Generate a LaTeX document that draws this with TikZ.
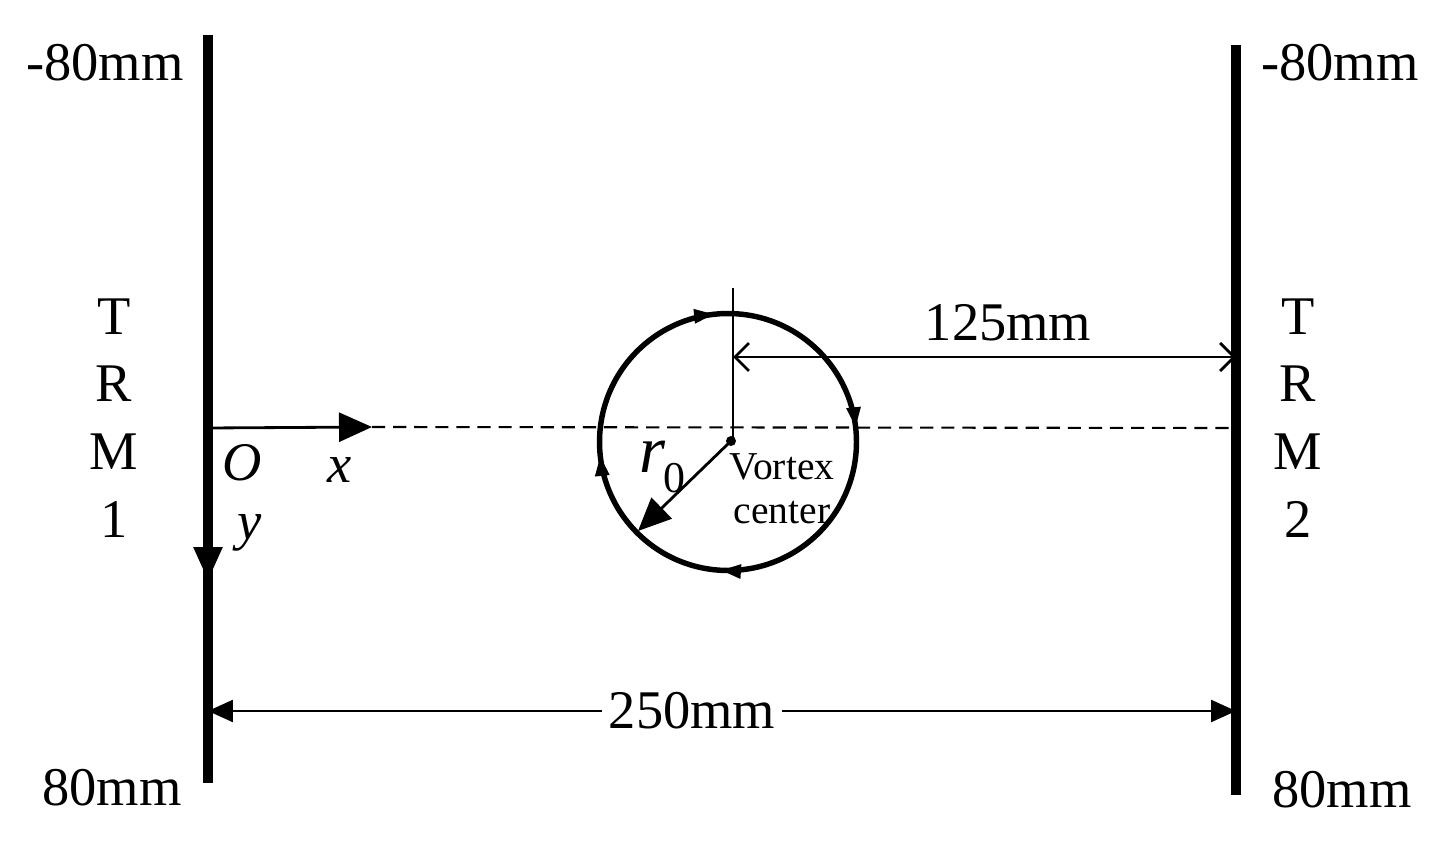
\documentclass[tikz,border=0pt]{standalone}
\usepackage{fontspec}
\setmainfont{Liberation Serif}
\usetikzlibrary{arrows.meta,positioning,decorations.markings}
\tikzstyle{bigtext} = [inner sep=0pt, font=\fontsize{31}{38.6}\selectfont]
\tikzstyle{smalltext} = [inner sep=0pt, font=\fontsize{22.5}{25}\selectfont]
\tikzstyle{mirror} = [line width=5.6pt]
\tikzstyle{axis} = [line width=1.6pt, -{Triangle[length=0.66cm,width=0.58cm]}]
\tikzstyle{dimline} = [line width=1.4pt, {Triangle[length=0.5cm,width=0.44cm]}-{Triangle[length=0.5cm,width=0.44cm]}]
\tikzstyle{openarrow} = [line width=1.6pt, {Straight Barb[length=0.28cm,width=0.56cm]}-{Straight Barb[length=0.28cm,width=0.56cm]}]
\pgfkeys{/pgf/decoration/flowmark/.style={mark=at position #1 with {\arrowreversed{Triangle[length=0.42cm,width=0.26cm]}}}}

\begin{document}
\begin{tikzpicture}[x=0.02cm, y=-0.02cm]
\useasboundingbox (0,0) rectangle (1444,841);

% Mirrors

	\coordinate (leftTop) at (208,35);
	\coordinate (leftBot) at (208,783);
	\coordinate (rightTop) at (1236,45);
	\coordinate (rightBot) at (1236,795);

	\draw [mirror] (leftTop) -- (leftBot);
	\draw [mirror] (rightTop) -- (rightBot);


% Mirror labels

	\node (leftMin) [bigtext] at (105,63) {-80mm};
	\node (leftMax) [bigtext] at (112,788) {80mm};
	\node (rightMin) [bigtext] at (1340,63) {-80mm};
	\node (rightMax) [bigtext] at (1342,790) {80mm};

	\node (trmOne) [bigtext, align=center] at (114,418) {T\\R\\M\\1};
	\node (trmTwo) [bigtext, align=center] at (1298,418) {T\\R\\M\\2};


% Axes

	\coordinate (origin) at (208,428);
	\coordinate (xTip) at (372,427);
	\coordinate (yTip) at (208,580);
	\coordinate (axisEnd) at (1236,428);

	\draw [axis] (origin) -- (xTip);
	\draw [axis] (origin) -- (yTip);
	\draw [line width=1.2pt, dash pattern=on 7.5pt off 4.5pt] (xTip) -- (axisEnd);

	\node (oLabel) [bigtext] at (242,463) {\textit{O}};
	\node (xLabel) [bigtext] at (340,470) {\textit{x}};
	\node (yLabel) [bigtext] at (250,533) {\textit{y}};


% Vortex

	\coordinate (center) at (731,441);
	\coordinate (rimPoint) at (638,531);
	\coordinate (markTop) at (733,288);

	\draw [line width=3.1pt, postaction={decorate}, decoration={markings,
		flowmark=0.017, flowmark=0.266, flowmark=0.516, flowmark=0.74}]
		(728,442) circle [radius=2.57cm];

	\fill (center) circle [radius=0.1cm];
	\draw [line width=1.6pt] (markTop) -- (733,441);
	\draw [axis] (center) -- (rimPoint);

	\node (rLabel) [inner sep=0pt, font=\fontsize{38}{40}\selectfont, anchor=base west] at (639,472)
		{\textit{r}\kern-1pt\raisebox{-0.3em}{\fontsize{25}{28}\selectfont 0}};
	\node (vortexLabel) [smalltext, align=center] at (782,489) {Vortex\\center};


% Distances

	\coordinate (halfStart) at (733,357);
	\coordinate (halfEnd) at (1236,357);
	\draw [openarrow] (halfStart) -- (halfEnd);
	\node (halfLabel) [bigtext] at (1008,323) {125mm};

	\coordinate (fullStart) at (208,711);
	\coordinate (fullEnd) at (1236,711);
	\draw [dimline] (fullStart) -- (fullEnd);
	\node (fullLabel) [bigtext, fill=white, inner xsep=4pt] at (692,711) {250mm};

\end{tikzpicture}
\end{document}
